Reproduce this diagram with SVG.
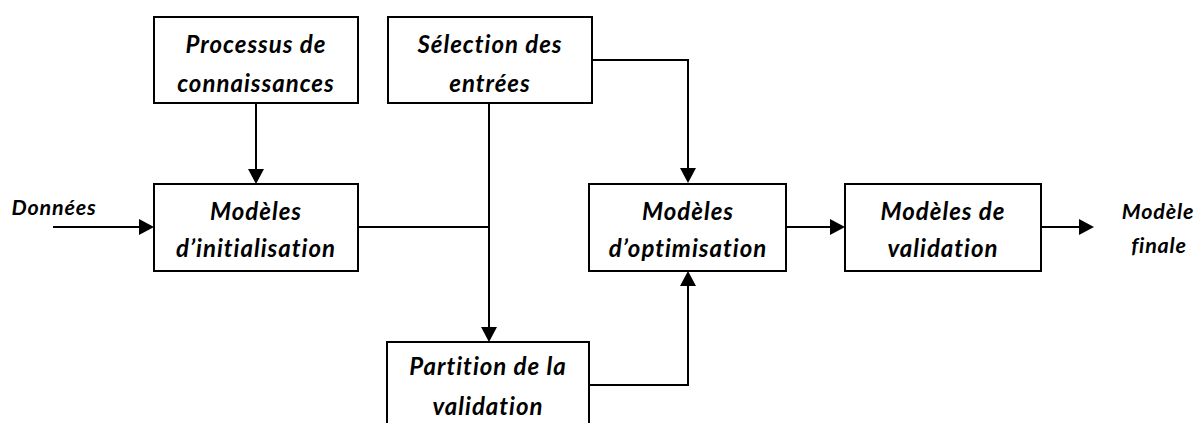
<svg xmlns="http://www.w3.org/2000/svg" width="1203" height="423" viewBox="0 0 1203 423">
  <defs>
    <style>
      .box { fill: #fff; stroke: #000; stroke-width: 2; }
      .lbl { font-family: Lato, "Open Sans", sans-serif; font-weight: bold; font-style: italic; font-size: 24px; letter-spacing: 1px; fill: #000; text-anchor: middle; font-variant-ligatures: none; }
      .io { font-size: 21.5px; letter-spacing: 0.8px; }
      .wire { fill: none; stroke: #000; stroke-width: 2; }
      .head { fill: #000; }
    </style>
  </defs>
  <rect width="1203" height="423" fill="#fff"/>

  <!-- connectors -->
  <g id="connectors">
    <!-- input data -->
    <line class="wire" x1="53" y1="227" x2="140" y2="227"/>
    <path class="head" d="M139,219 L154,227 L139,235 Z"/>
    <!-- knowledge -> initialisation -->
    <line class="wire" x1="256" y1="103" x2="256" y2="170"/>
    <path class="head" d="M248,169 L256,184 L264,169 Z"/>
    <!-- initialisation joins input selection line -->
    <polyline class="wire" points="358,227 489,227"/>
    <!-- input selection -> partition -->
    <line class="wire" x1="489" y1="103" x2="489" y2="328"/>
    <path class="head" d="M481,327 L489,342 L497,327 Z"/>
    <!-- input selection -> optimisation -->
    <polyline class="wire" points="592,60 688,60 688,170"/>
    <path class="head" d="M680,168 L688,183 L696,168 Z"/>
    <!-- partition -> optimisation -->
    <polyline class="wire" points="589,385 688,385 688,285"/>
    <path class="head" d="M680,286 L688,271 L696,286 Z"/>
    <!-- optimisation -> validation -->
    <line class="wire" x1="786" y1="227" x2="832" y2="227"/>
    <path class="head" d="M830,219 L845,227 L830,235 Z"/>
    <!-- validation -> final model -->
    <line class="wire" x1="1041" y1="227" x2="1080" y2="227"/>
    <path class="head" d="M1079,219 L1094,227 L1079,235 Z"/>
  </g>

  <g id="processus">
    <rect class="box" x="154" y="17" width="204" height="86"/>
    <text class="lbl" x="256" y="53">Processus de</text>
    <text class="lbl" x="256" y="92">connaissances</text>
  </g>

  <g id="selection">
    <rect class="box" x="388" y="17" width="204" height="86"/>
    <text class="lbl" x="490" y="53">Sélection des</text>
    <text class="lbl" x="490" y="92">entrées</text>
  </g>

  <g id="initialisation">
    <rect class="box" x="154" y="184" width="204" height="87"/>
    <text class="lbl" x="256" y="220">Modèles</text>
    <text class="lbl" x="256" y="257">d’initialisation</text>
  </g>

  <g id="optimisation">
    <rect class="box" x="589" y="184" width="197" height="87"/>
    <text class="lbl" x="688" y="220">Modèles</text>
    <text class="lbl" x="688" y="257">d’optimisation</text>
  </g>

  <g id="validation">
    <rect class="box" x="845" y="184" width="196" height="87"/>
    <text class="lbl" x="943" y="220">Modèles de</text>
    <text class="lbl" x="943" y="257">validation</text>
  </g>

  <g id="partition">
    <path class="box" d="M387,424 L387,342 L589,342 L589,424"/>
    <text class="lbl" x="488" y="375">Partition de la</text>
    <text class="lbl" x="488" y="415">validation</text>
  </g>

  <g id="donnees">
    <text class="lbl io" x="54" y="215">Données</text>
  </g>

  <g id="modele-finale">
    <text class="lbl io" x="1158" y="219">Modèle</text>
    <text class="lbl io" x="1159" y="253">finale</text>
  </g>
</svg>
